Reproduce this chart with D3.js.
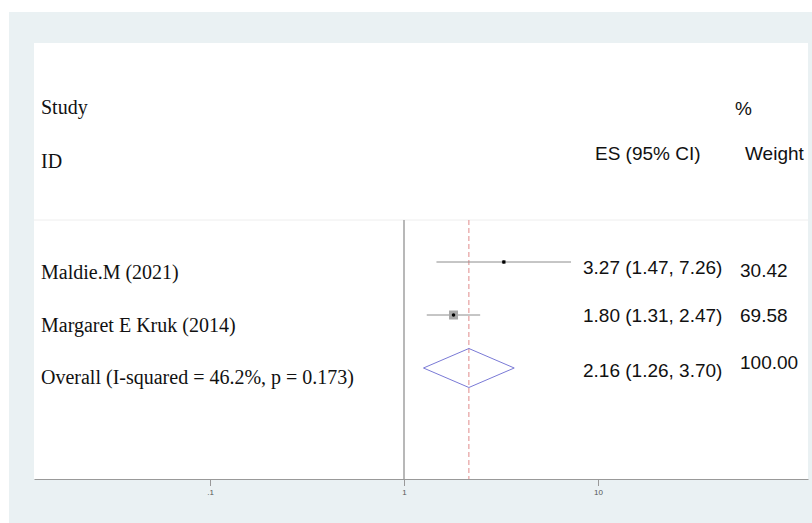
<!DOCTYPE html>
<html>
<head>
<meta charset="utf-8">
<script src="https://cdn.jsdelivr.net/npm/d3@7"></script>
<style>
  html, body { margin: 0; padding: 0; background: #ffffff; }
  svg { display: block; }
</style>
</head>
<body>
<svg id="chart" width="812" height="523"></svg>
<script>
// Study-level estimates (odds ratios with 95% CI) and weights
const studies = ["Maldie.M (2021)", "Margaret E Kruk (2014)"];
const esValues = [3.27, 1.80];
const ciLower = [1.47, 1.31];
const ciUpper = [7.26, 2.47];
const weights = [30.42, 69.58];

// Pooled estimate
const overallLabel = "Overall (I-squared = 46.2%, p = 0.173)";
const overallES = 2.16;
const overallLower = 1.26;
const overallUpper = 3.70;
const overallWeight = 100.00;

// Axis ticks
const tickValues = [0.1, 1, 10];
const tickLabels = [".1", "1", "10"];

const fmt = d3.format(".2f");
const svg = d3.select("#chart");

// Background panels
svg.append("rect").attr("x", 9).attr("y", 12).attr("width", 803).attr("height", 511)
  .attr("fill", "#eaf1f3");
svg.append("rect").attr("x", 34).attr("y", 43).attr("width", 774).attr("height", 436)
  .attr("fill", "#ffffff");

// Log-scale x axis (1 sits at the null line)
const plotLeft = 34, plotRight = 808, nullX = 404, decade = 194;
const x = d3.scaleLog()
  .domain([Math.pow(10, (plotLeft - nullX) / decade), Math.pow(10, (plotRight - nullX) / decade)])
  .range([plotLeft, plotRight]);

// Row positions
const rowY = d3.scalePoint().domain([0, 1, 2]).range([262, 368]);
const headerLineY = 220;
const axisY = 479;

// Faint separator under the column headers
svg.append("line").attr("x1", plotLeft).attr("x2", plotRight)
  .attr("y1", headerLineY).attr("y2", headerLineY)
  .attr("stroke", "#eeeeee").attr("stroke-width", 1);

// Null line at 1
svg.append("line").attr("x1", x(1)).attr("x2", x(1))
  .attr("y1", headerLineY).attr("y2", axisY)
  .attr("stroke", "#a0a0a0").attr("stroke-width", 1.5);

// Dashed line at the pooled estimate
svg.append("line").attr("x1", x(overallES)).attr("x2", x(overallES))
  .attr("y1", headerLineY).attr("y2", axisY)
  .attr("stroke", "#e08a8a").attr("stroke-width", 1)
  .attr("stroke-dasharray", "5,3");

// Axis
const axis = d3.axisBottom(x)
  .tickValues(tickValues)
  .tickFormat((d, i) => tickLabels[i])
  .tickSizeInner(7).tickSizeOuter(0).tickPadding(3);
const gAxis = svg.append("g").attr("transform", `translate(0,${axisY})`).call(axis);
gAxis.select(".domain").attr("stroke", "#999999").attr("stroke-width", 1.2);
gAxis.selectAll(".tick line").attr("stroke", "#999999");
gAxis.selectAll(".tick text").attr("fill", "#555555")
  .style("font-family", "'Liberation Sans', Arial, sans-serif").style("font-size", "8px");

// Study rows
const rows = studies.map((s, i) => ({ s, es: esValues[i], lo: ciLower[i], hi: ciUpper[i], w: weights[i], i }));
const boxSize = d3.scaleLinear().domain([0, 69.58]).range([0, 9]);

const g = svg.append("g");
g.selectAll("line.ci").data(rows).join("line").attr("class", "ci")
  .attr("x1", d => x(d.lo)).attr("x2", d => x(d.hi))
  .attr("y1", d => rowY(d.i)).attr("y2", d => rowY(d.i))
  .attr("stroke", "#8c8c8c").attr("stroke-width", 1);
g.selectAll("rect.box").data(rows).join("rect").attr("class", "box")
  .attr("x", d => x(d.es) - boxSize(d.w) / 2).attr("y", d => rowY(d.i) - boxSize(d.w) / 2)
  .attr("width", d => boxSize(d.w)).attr("height", d => boxSize(d.w))
  .attr("fill", "#a8a8a8");
g.selectAll("circle.pt").data(rows).join("circle").attr("class", "pt")
  .attr("cx", d => x(d.es)).attr("cy", d => rowY(d.i)).attr("r", 1.8)
  .attr("fill", "#000000");

// Pooled diamond
const oy = rowY(2), dh = 19.5;
svg.append("path")
  .attr("d", `M${x(overallLower)},${oy} L${x(overallES)},${oy - dh} L${x(overallUpper)},${oy} L${x(overallES)},${oy + dh} Z`)
  .attr("fill", "none").attr("stroke", "#7a7ad6").attr("stroke-width", 1);

// Text
const serif = "'Liberation Serif', 'Times New Roman', serif";
const sans = "'Liberation Sans', Arial, Helvetica, sans-serif";
function txt(t, tx, ty, font, size) {
  return svg.append("text").attr("x", tx).attr("y", ty).text(t)
    .style("font-family", font).style("font-size", size + "px").attr("fill", "#111111");
}

txt("Study", 41, 114, serif, 20);
txt("ID", 41, 168, serif, 20);
txt("%", 735, 115, sans, 19);
txt("ES (95% CI)", 595, 160, sans, 19);
txt("Weight", 745, 160, sans, 19);

const labelX = 41, esX = 583, wX = 740;
rows.forEach(d => {
  txt(d.s, labelX, rowY(d.i) + 17, serif, 20);
  txt(`${fmt(d.es)} (${fmt(d.lo)}, ${fmt(d.hi)})`, esX, rowY(d.i) + (d.i === 0 ? 12 : 7), sans, 19);
  txt(fmt(d.w), wX, rowY(d.i) + (d.i === 0 ? 15 : 7), sans, 19);
});
txt(overallLabel, labelX, oy + 16, serif, 20);
txt(`${fmt(overallES)} (${fmt(overallLower)}, ${fmt(overallUpper)})`, esX, oy + 9, sans, 19);
txt(fmt(overallWeight), wX, oy + 1, sans, 19);
</script>
</body>
</html>
